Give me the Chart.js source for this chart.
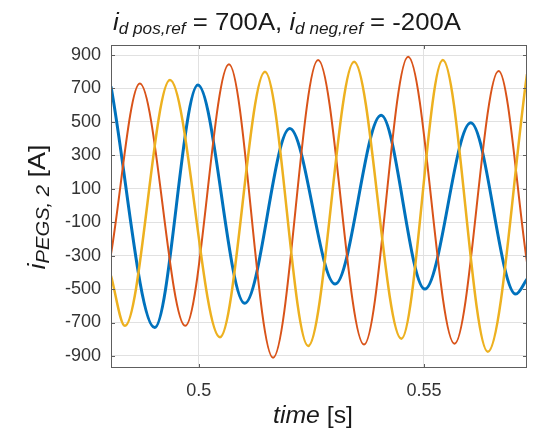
<!DOCTYPE html>
<html>
<head>
<meta charset="utf-8">
<script src="https://cdn.jsdelivr.net/npm/chart.js@4.4.1/dist/chart.umd.min.js"></script>
<style>
  html, body { margin: 0; padding: 0; background: #fff; }
  #wrap { width: 533px; height: 436px; }
</style>
</head>
<body>
<div id="wrap"><canvas id="phaseChart" width="533" height="436"></canvas></div>
<script>
// time axis window and tick labels
var xMin = 0.4805, xMax = 0.5729;
var yMin = -972, yMax = 960;
var xTicks = [0.5, 0.55];
var yTicks = [-900, -700, -500, -300, -100, 100, 300, 500, 700, 900];

// peaks / troughs (s, A)
var blueT = [0.4805, 0.4902, 0.4998, 0.5102, 0.5202, 0.5303, 0.5405, 0.5502, 0.5604, 0.5704, 0.5729];
var blueI = [712, -730, 720, -585, 460, -470, 540, -500, 495, -530, -440];

var orangeT = [0.4805, 0.4869, 0.4970, 0.5067, 0.5165, 0.5265, 0.5367, 0.5465, 0.5568, 0.5666, 0.5729];
var orangeI = [-290, 730, -720, 845, -910, 870, -832, 890, -827, 805, -340];

var yellowT = [0.4805, 0.4836, 0.4936, 0.5047, 0.5147, 0.5243, 0.5345, 0.5450, 0.5542, 0.5642, 0.5729];
var yellowI = [-420, -720, 750, -788, 800, -840, 860, -797, 870, -875, 785];

function pts(t, v) {
    return t.map(function (x, i) { return { x: x, y: v[i] }; });
}

var FONT = "'Liberation Sans', Arial, Helvetica, sans-serif";

function fontOf(p) {
    return (p.italic ? "italic " : "") + p.size + "px " + FONT;
}

// draws text with sub-scripts, squeezed/stretched to a given width
function drawRich(ctx, parts, cx, base, fitW, angle) {
    ctx.save();
    ctx.translate(cx, base);
    ctx.rotate(angle);
    var w = 0;
    parts.forEach(function (p) {
        ctx.font = fontOf(p);
        p.w = ctx.measureText(p.text).width;
        w += p.w;
    });
    ctx.scale(fitW / w, 1);
    ctx.fillStyle = "#1a1a1a";
    ctx.textBaseline = "alphabetic";
    ctx.textAlign = "left";
    var x = -w / 2;
    parts.forEach(function (p) {
        ctx.font = fontOf(p);
        ctx.fillText(p.text, x, p.dy || 0);
        x += p.w;
    });
    ctx.restore();
}

var decorations = {
    id: "decorations",
    afterDatasetsDraw: function (chart) {
        var ctx = chart.ctx;
        var a = chart.chartArea;
        var sx = chart.scales.x, sy = chart.scales.y;

        // box around the axes
        ctx.save();
        ctx.strokeStyle = "#5e5e5e";
        ctx.lineWidth = 1;
        ctx.strokeRect(a.left + 0.5, a.top + 0.5, a.right - a.left - 1, a.bottom - a.top - 1);

        // inward tick marks on all four sides
        ctx.beginPath();
        xTicks.forEach(function (v) {
            var px = Math.round(sx.getPixelForValue(v)) + 0.5;
            ctx.moveTo(px, a.bottom); ctx.lineTo(px, a.bottom - 4);
            ctx.moveTo(px, a.top); ctx.lineTo(px, a.top + 4);
        });
        yTicks.forEach(function (v) {
            var py = Math.round(sy.getPixelForValue(v)) + 0.5;
            ctx.moveTo(a.left, py); ctx.lineTo(a.left + 4, py);
            ctx.moveTo(a.right, py); ctx.lineTo(a.right - 4, py);
        });
        ctx.stroke();
        ctx.restore();

        // title
        drawRich(ctx, [
            { text: "i", italic: true, size: 24 },
            { text: "d pos,ref", italic: true, size: 16, dy: 4 },
            { text: " = 700A, ", size: 24 },
            { text: "i", italic: true, size: 24 },
            { text: "d neg,ref", italic: true, size: 16, dy: 4 },
            { text: " = -200A", size: 24 }
        ], 287, 30, 348, 0);

        // y label
        drawRich(ctx, [
            { text: "i", italic: true, size: 24 },
            { text: "PEGS, 2", italic: true, size: 18, dy: 4 },
            { text: " [A]", size: 24 }
        ], 45, 207, 125, -Math.PI / 2);

        // x label
        drawRich(ctx, [
            { text: "time", italic: true, size: 24 },
            { text: " [s]", size: 24 }
        ], 313, 423, 80, 0);
    }
};

var ctx = document.getElementById("phaseChart").getContext("2d");
var phaseChart = new Chart(ctx, {
    type: "line",
    data: {
        datasets: [{
            label: "blue",
            data: pts(blueT, blueI),
            borderColor: "#0072BD",
            borderWidth: 3,
            order: 3
        }, {
            label: "orange",
            data: pts(orangeT, orangeI),
            borderColor: "#D95319",
            borderWidth: 2,
            order: 2
        }, {
            label: "yellow",
            data: pts(yellowT, yellowI),
            borderColor: "#EDB120",
            borderWidth: 2.5,
            order: 1
        }]
    },
    options: {
        responsive: false,
        animation: false,
        layout: { padding: { top: 45, right: 6, left: 0, bottom: 0 } },
        datasets: {
            line: {
                pointRadius: 0,
                cubicInterpolationMode: "monotone",
                fill: false,
                clip: 0
            }
        },
        plugins: {
            legend: { display: false },
            tooltip: { enabled: false },
            title: { display: false }
        },
        scales: {
            x: {
                type: "linear",
                min: xMin,
                max: xMax,
                afterBuildTicks: function (s) {
                    s.ticks = xTicks.map(function (v) { return { value: v }; });
                },
                afterFit: function (s) { s.height = 68; },
                grid: { color: "#e1e1e1", drawTicks: false },
                border: { display: false },
                ticks: {
                    padding: 12,
                    color: "#333",
                    font: { family: FONT, size: 18 },
                    maxRotation: 0,
                    callback: function (v) { return String(v); }
                }
            },
            y: {
                min: yMin,
                max: yMax,
                afterBuildTicks: function (s) {
                    s.ticks = yTicks.map(function (v) { return { value: v }; });
                },
                afterFit: function (s) { s.width = 111; },
                grid: { color: "#e1e1e1", drawTicks: false },
                border: { display: false },
                ticks: {
                    padding: 10,
                    color: "#333",
                    font: { family: FONT, size: 18 },
                    callback: function (v) { return String(v); }
                }
            }
        }
    },
    plugins: [decorations]
});
</script>
</body>
</html>
